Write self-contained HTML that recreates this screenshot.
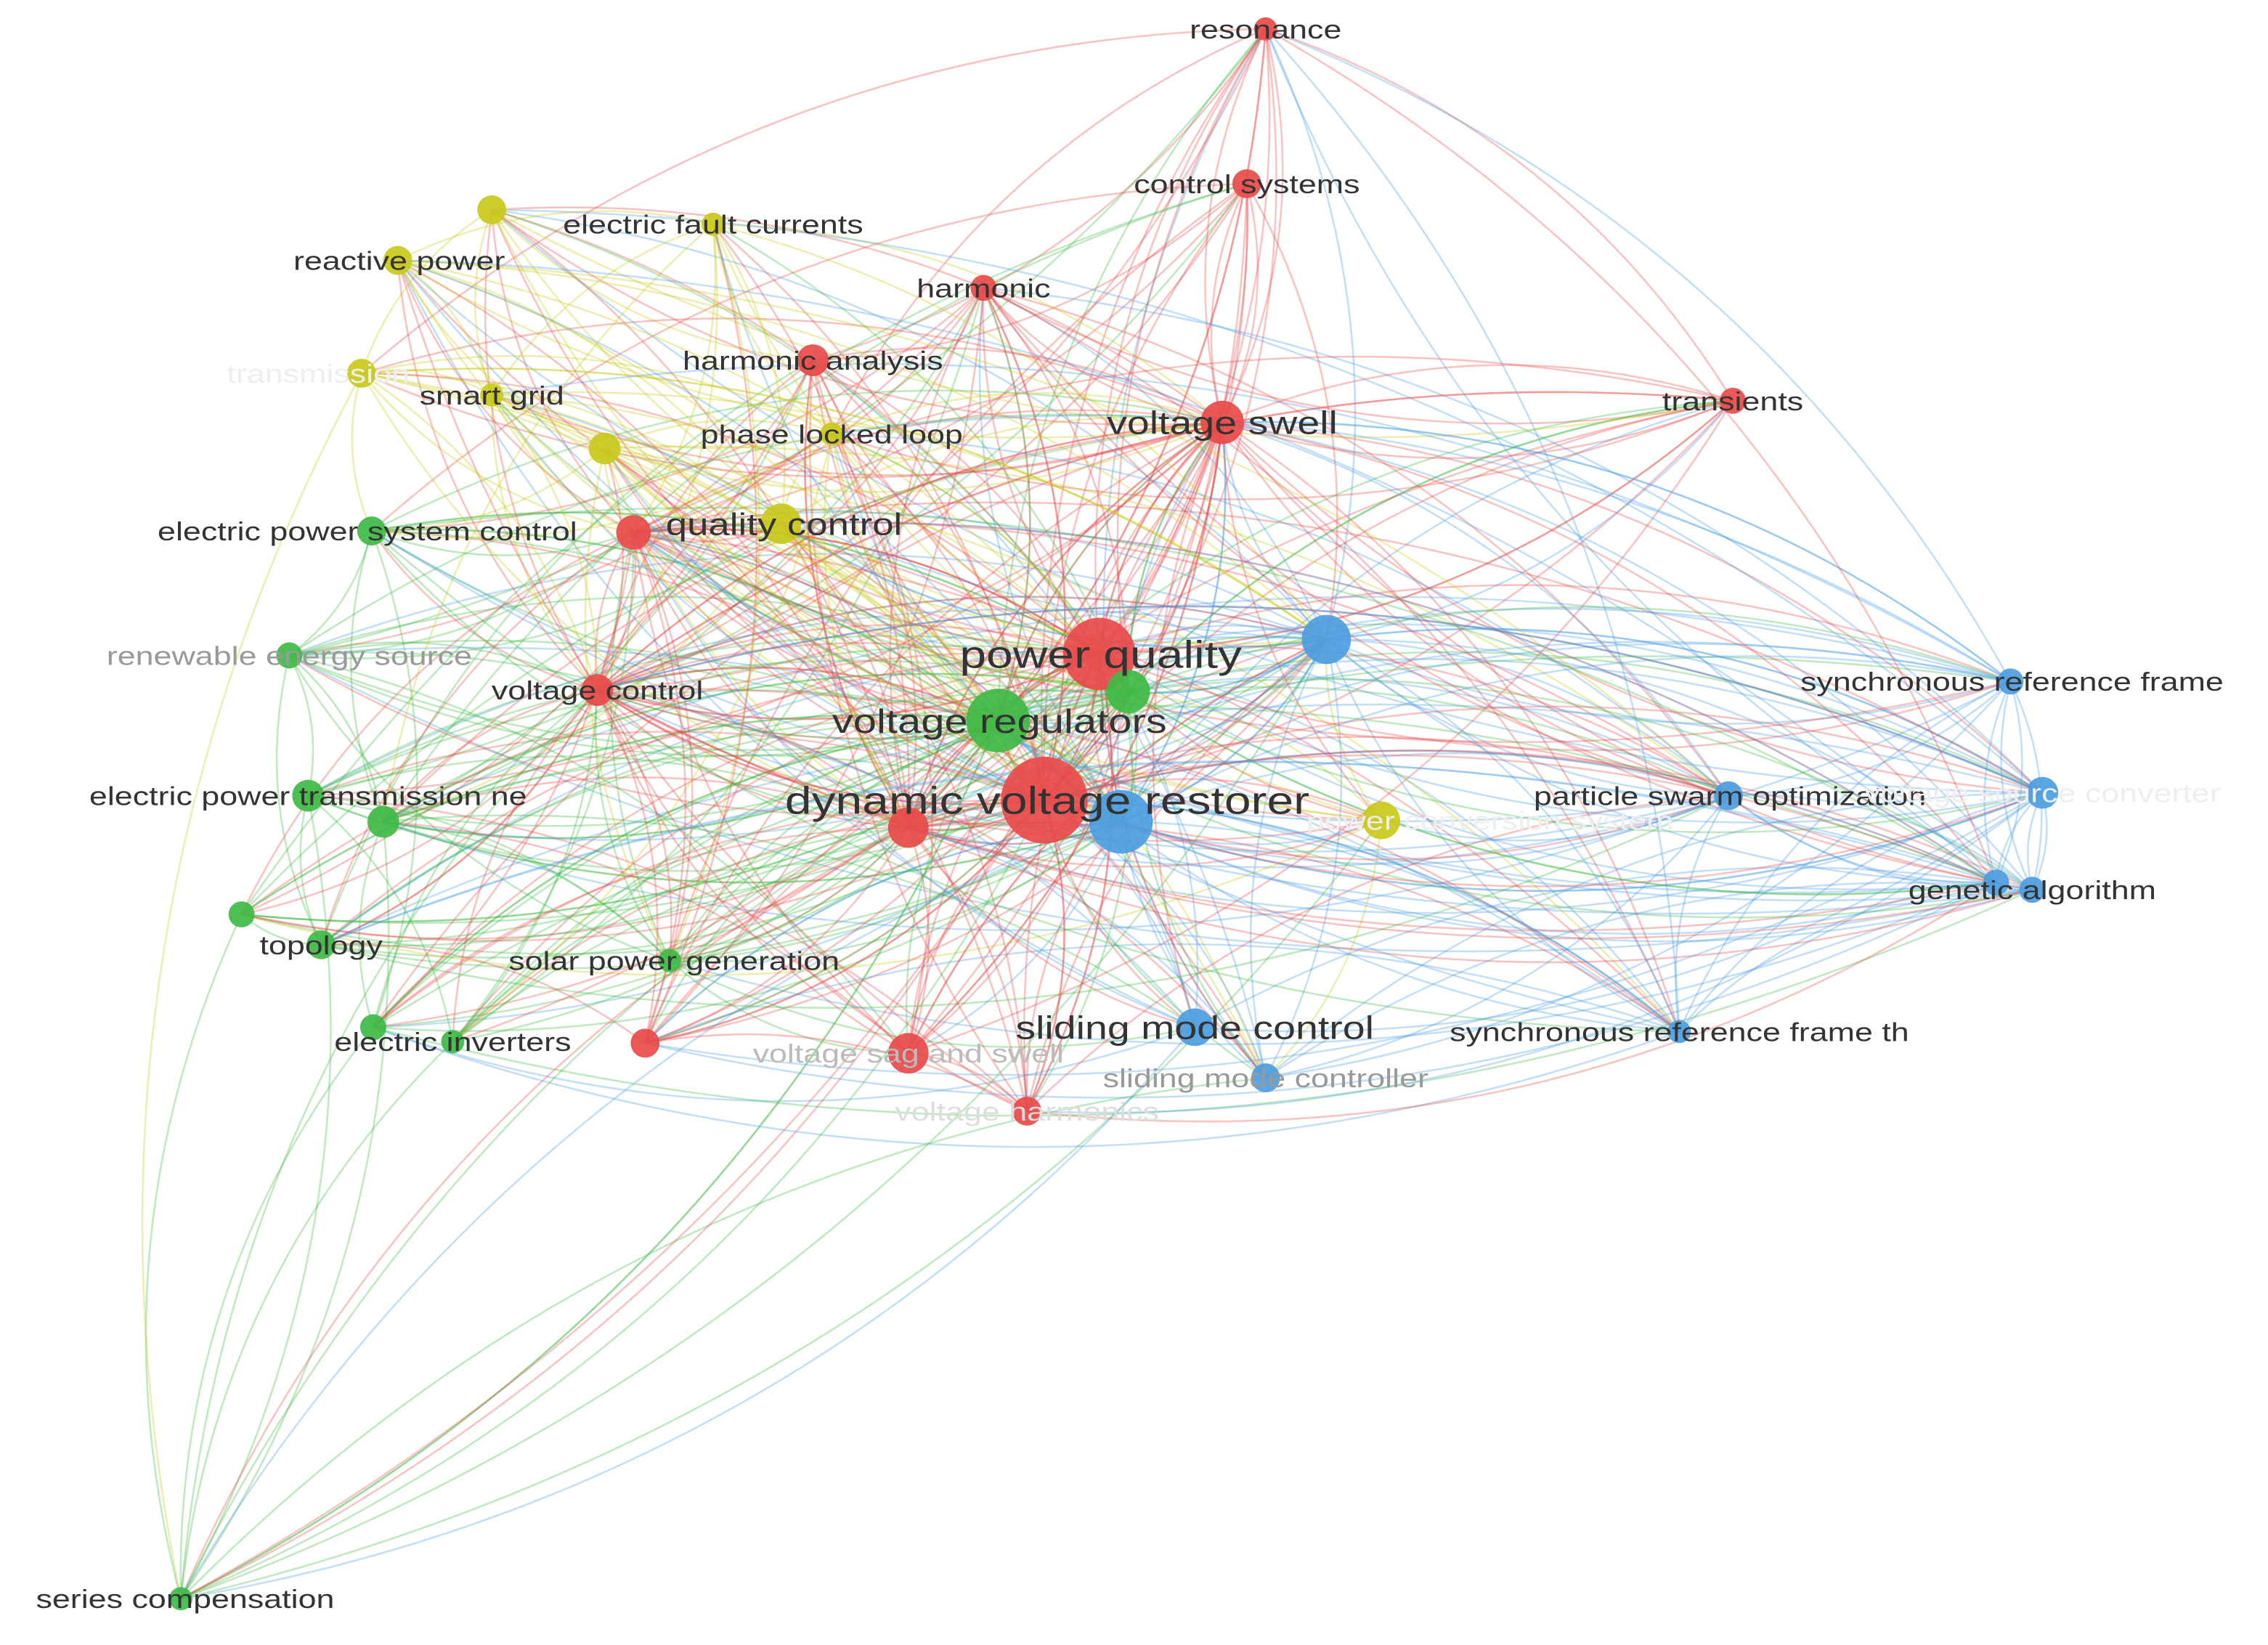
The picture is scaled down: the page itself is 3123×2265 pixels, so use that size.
<!DOCTYPE html>
<html><head><meta charset="utf-8">
<style>
html,body{margin:0;padding:0;background:#fff;}
svg{display:block;}
text{font-family:"Liberation Sans","DejaVu Sans",sans-serif;}
</style></head>
<body>
<svg id="s" xmlns="http://www.w3.org/2000/svg" width="3123" height="2265" viewBox="0 0 1568 1137" preserveAspectRatio="none">
<g id="edges"></g><g id="nodes"></g><g id="labels"></g>
</svg>
<script>
var R='#e84a4a',G='#3fba45',B='#4d9de0',Y='#c9c91c';
var N=[
[875,20,8,R,'resonance',17,'#333'],
[862,127,10,R,'control systems',17,'#333'],
[680,199,9,R,'harmonic',17,'#333'],
[562,249,11,R,'harmonic analysis',17,'#333'],
[845,292,15,R,'voltage swell',21,'#333'],
[1198,277,9,R,'transients',17,'#333'],
[438,368,12,R,'',0,''],
[540,362,14,Y,'quality control',20,'#333',542],
[257,367,10,G,'electric power system control',17,'#333',254],
[200,453,9,G,'renewable energy source',17,'#999'],
[413,477,11,R,'voltage control',17,'#333'],
[760,452,25,R,'power quality',25,'#333',761],
[780,478,15,G,'',0,''],
[690,498,22,G,'voltage regulators',22,'#333',691],
[722,553,30,R,'dynamic voltage restorer',25,'#333',724],
[775,568,22,B,'',0,''],
[628,572,14,R,'',0,''],
[917,442,17,B,'',0,''],
[955,567,13,Y,'power conversion system',17,'#eee',1030],
[213,550,11,G,'electric power transmission ne',17,'#333'],
[265,568,11,G,'',0,''],
[167,632,9,G,'',0,''],
[222,653,10,G,'topology',17,'#333'],
[463,664,8,G,'solar power generation',17,'#333',466],
[258,710,9,G,'',0,''],
[313,720,8,G,'electric inverters',17,'#333'],
[446,721,10,R,'',0,''],
[628,728,14,R,'voltage sag and swell',17,'#bbb'],
[710,768,10,R,'voltage harmonics',17,'#ddd'],
[826,710,13,B,'sliding mode control',21,'#333'],
[875,745,10,B,'sliding mode controller',17,'#999'],
[1161,713,8,B,'synchronous reference frame th',17,'#333'],
[1195,550,10,B,'particle swarm optimization',17,'#333',1196],
[1412,548,11,B,'voltage source converter',17,'#eee'],
[1390,471,9,B,'synchronous reference frame',17,'#333',1391],
[1380,610,9,B,'',0,''],
[1405,615,9,B,'genetic algorithm',17,'#333'],
[125,1105,8,G,'series compensation',17,'#333',128],
[340,145,10,Y,'',0,''],
[493,155,8,Y,'electric fault currents',17,'#333'],
[275,180,10,Y,'reactive power',17,'#333',276],
[250,258,10,Y,'transmission',17,'#eee',220],
[340,273,8,Y,'smart grid',17,'#333'],
[418,310,11,Y,'',0,''],
[575,300,8,Y,'phase locked loop',17,'#333']
];
var seed=7;function rnd(){seed=(seed*16807)%2147483647;return seed/2147483647;}
var e='';
function edge(a,b){
 var x1=a[0],y1=a[1],x2=b[0],y2=b[1];
 var mx=(x1+x2)/2,my=(y1+y2)/2,dx=x2-x1,dy=y2-y1;
 var k=0.18*(rnd()>0.5?1:-1);
 var cx=mx-dy*k,cy=my+dx*k;
 var c=rnd()<0.5?a[3]:b[3];
 e+='<path d="M'+x1+' '+y1+' Q'+cx.toFixed(1)+' '+cy.toFixed(1)+' '+x2+' '+y2+'" stroke="'+c+'" stroke-opacity="0.33" stroke-width="1.3" fill="none"/>';
}
var hubs=[14,11,13,15,16,12,17,10,6,4];
for(var i=0;i<N.length;i++){
 for(var h=0;h<hubs.length;h++){var j=hubs[h];if(j!==i&&rnd()<0.85)edge(N[i],N[j]);}
 for(var j=i+1;j<N.length;j++){
  var p=(N[i][3]===N[j][3])?0.5:0.14;
  if(rnd()<p)edge(N[i],N[j]);
 }
}
var blues=[31,32,33,34,35,36];
for(var b=0;b<blues.length;b++)for(var i=0;i<N.length;i+=2){if(rnd()<0.35)edge(N[blues[b]],N[i]);}
document.getElementById('edges').innerHTML=e;
var n='',l='';
N.forEach(function(d){
 n+='<circle cx="'+d[0]+'" cy="'+d[1]+'" r="'+d[2]+'" fill="'+d[3]+'" fill-opacity="0.92"/>';
 if(d[4]){var x=d.length>7?d[7]:d[0];var fs=d[5]*1.06;
  l+='<text transform="translate('+x+','+(d[1]+fs*0.36).toFixed(1)+') scale(1.25,1)" font-size="'+fs.toFixed(1)+'" fill="'+d[6]+'" text-anchor="middle">'+d[4]+'</text>';}
});
document.getElementById('nodes').innerHTML=n;
document.getElementById('labels').innerHTML=l;
</script>
</body></html>
